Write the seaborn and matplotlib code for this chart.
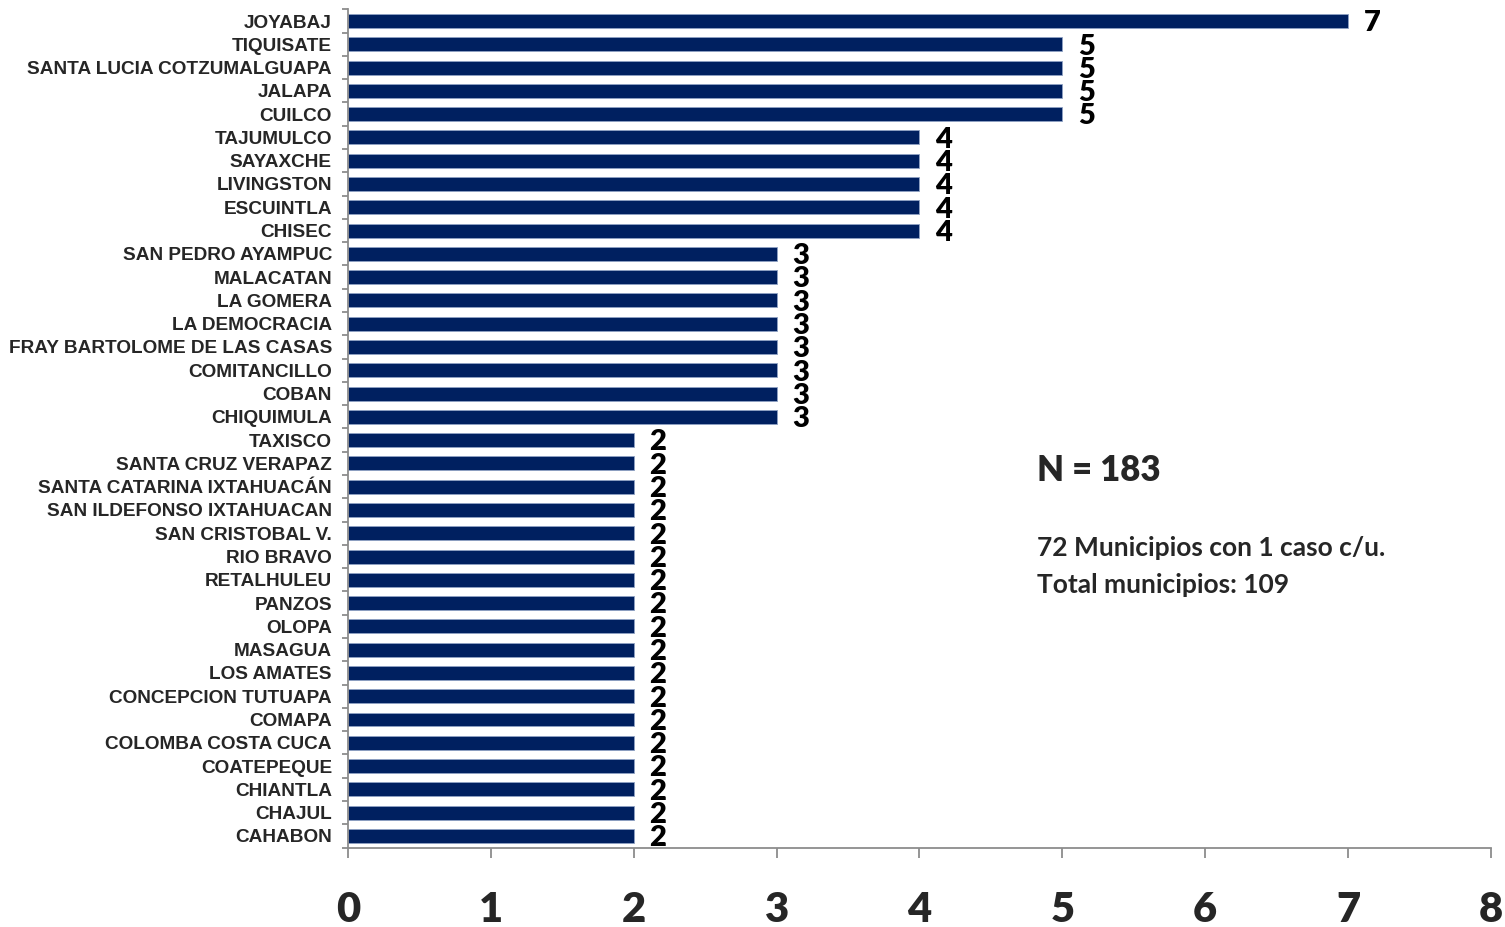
import matplotlib
matplotlib.use("Agg")
import matplotlib.pyplot as plt
import seaborn as sns
import pandas as pd
import numpy as np

municipios = [
    "JOYABAJ", "TIQUISATE", "SANTA LUCIA COTZUMALGUAPA", "JALAPA", "CUILCO",
    "TAJUMULCO", "SAYAXCHE", "LIVINGSTON", "ESCUINTLA", "CHISEC",
    "SAN PEDRO AYAMPUC", "MALACATAN", "LA GOMERA", "LA DEMOCRACIA",
    "FRAY BARTOLOME DE LAS CASAS", "COMITANCILLO", "COBAN", "CHIQUIMULA",
    "TAXISCO", "SANTA CRUZ VERAPAZ", "SANTA CATARINA IXTAHUACÁN",
    "SAN ILDEFONSO IXTAHUACAN", "SAN CRISTOBAL V.", "RIO BRAVO", "RETALHULEU",
    "PANZOS", "OLOPA", "MASAGUA", "LOS AMATES", "CONCEPCION TUTUAPA", "COMAPA",
    "COLOMBA COSTA CUCA", "COATEPEQUE", "CHIANTLA", "CHAJUL", "CAHABON",
]
casos = [
    7, 5, 5, 5, 5,
    4, 4, 4, 4, 4,
    3, 3, 3, 3, 3, 3, 3, 3,
    2, 2, 2, 2, 2, 2, 2, 2, 2, 2, 2, 2, 2, 2, 2, 2, 2, 2,
]
x_ticks = [0, 1, 2, 3, 4, 5, 6, 7, 8]
total_n = "N = 183"
notas = ["72 Municipios con 1 caso c/u.", "Total municipios: 109"]

df = pd.DataFrame({"municipio": municipios, "casos": casos})

sns.set_theme(style="white")
plt.rcParams["font.family"] = ["Liberation Sans", "DejaVu Sans"]

fig = plt.figure(figsize=(15.05, 9.27), dpi=100)
ax = fig.add_axes([0.2312, 0.0857, 0.7595, 0.9042])

sns.barplot(data=df, x="casos", y="municipio", orient="h", color="#002060",
            width=0.6, saturation=1, edgecolor="#8fa2c4", linewidth=0.6, ax=ax)

n = len(municipios)
ax.set_xlim(x_ticks[0], x_ticks[-1])
ax.set_ylim(n - 0.5, -0.5)
ax.set_xlabel("")
ax.set_ylabel("")

# value labels
value_font = ["Lato", "DejaVu Sans"]
for i, v in enumerate(casos):
    ax.text(v + 0.11, i + 0.1, str(v), ha="left", va="center",
            fontsize=21, fontweight="heavy", family=value_font, color="black")

# axes styling
grey = "#8c8c8c"
for side in ("top", "right"):
    ax.spines[side].set_visible(False)
for side in ("left", "bottom"):
    ax.spines[side].set_color(grey)
    ax.spines[side].set_linewidth(1.3)

ax.set_xticks(x_ticks)
ax.set_xticklabels([str(t) for t in x_ticks], fontsize=30, fontweight="heavy",
                   family=value_font)
ax.tick_params(axis="x", direction="out", length=7.5, width=1.3, color=grey,
               pad=24, bottom=True)

ax.set_yticks(range(n))
ax.set_yticklabels(municipios, fontsize=13.7, fontweight="bold")
ax.tick_params(axis="y", which="major", length=0, pad=11.5)
ax.set_yticks(np.arange(-0.5, n, 1.0), minor=True)
ax.tick_params(axis="y", which="minor", direction="out", length=4, width=1.3,
               color=grey, left=True)

# summary annotations
fig.text(1037 / 1505, 1 - 470 / 927, total_n, ha="left", va="center",
         fontsize=25, fontweight="heavy", family=value_font)
fig.text(1037 / 1505, 1 - 548 / 927, notas[0], ha="left", va="center",
         fontsize=19, fontweight="bold", family=value_font)
fig.text(1037 / 1505, 1 - 585 / 927, notas[1], ha="left", va="center",
         fontsize=19, fontweight="bold", family=value_font)

fig.savefig("out.png", dpi=100, facecolor="white")
